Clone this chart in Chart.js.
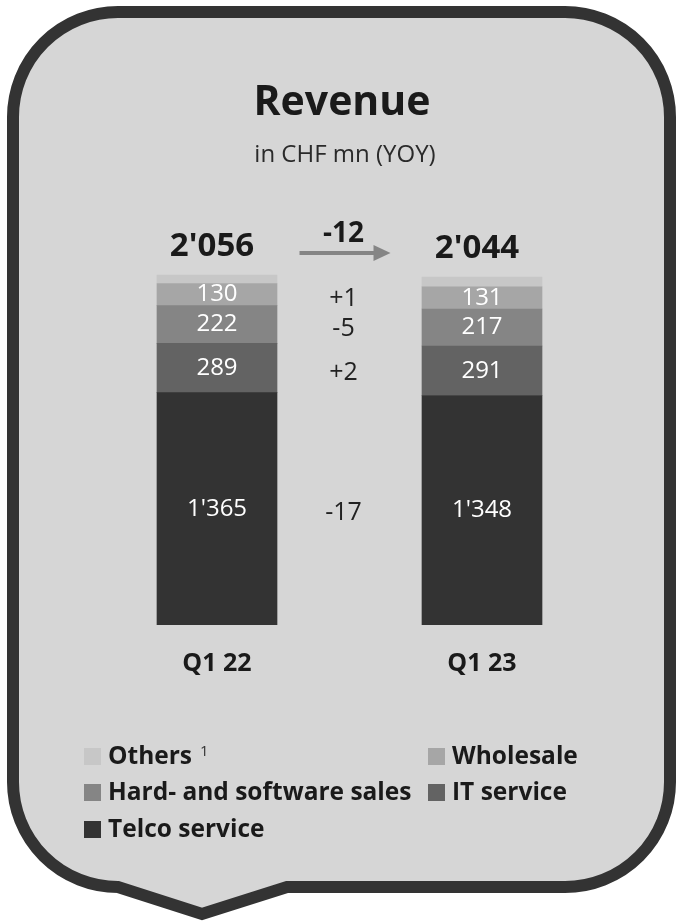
<!DOCTYPE html>
<html>
<head>
<meta charset="utf-8">
<title>Revenue</title>
<script src="https://cdn.jsdelivr.net/npm/chart.js@4.4.1/dist/chart.umd.min.js"></script>
<style>
  html, body { margin: 0; padding: 0; background: #ffffff; }
  #revenueChart { display: block; }
</style>
</head>
<body>
<canvas id="revenueChart" width="676" height="923"></canvas>
<script>
// values in CHF mn
const categories = ['Q1 22', 'Q1 23'];
const telcoService = [1365, 1348];
const itService = [289, 291];
const hardSoftwareSales = [222, 217];
const wholesale = [130, 131];
const others = [50, 57];
const totals = [2056, 2044];

const seriesNames = ['Telco service', 'IT service', 'Hard- and software sales', 'Wholesale', 'Others'];
const seriesColors = ['#333333', '#636363', '#858585', '#a6a6a6', '#c7c7c7'];

const FONT = "'Open Sans', 'Noto Sans', sans-serif";

function fmt(v) {
  return String(Math.abs(v)).replace(/\B(?=(\d{3})+(?!\d))/g, "'");
}
function fmtDelta(v) {
  return (v > 0 ? '+' : '-') + fmt(v);
}

// speech bubble behind everything
const bubblePlugin = {
  id: 'bubble',
  beforeDraw: function(chart) {
    const c = chart.ctx;
    const r = 105;
    const L = 13, T = 12, R = 670, B = 887;
    c.save();
    c.beginPath();
    c.moveTo(L + r, T);
    c.lineTo(R - r, T);
    c.arcTo(R, T, R, T + r, r);
    c.lineTo(R, B - r);
    c.arcTo(R, B, R - r, B, r);
    c.lineTo(287, B);
    c.lineTo(202, 914);
    c.lineTo(118, B);
    c.arcTo(L, B, L, B - r, r);
    c.lineTo(L, T + r);
    c.arcTo(L, T, L + r, T, r);
    c.closePath();
    c.fillStyle = '#d6d6d6';
    c.fill();
    c.lineWidth = 12;
    c.lineJoin = 'miter';
    c.strokeStyle = '#333333';
    c.stroke();
    c.restore();
  }
};

// title, value labels, deltas, totals and legend
const labelsPlugin = {
  id: 'labels',
  afterDatasetsDraw: function(chart) {
    const c = chart.ctx;
    const sets = chart.data.datasets;
    const metas = sets.map(function(d, i) { return chart.getDatasetMeta(i); });
    c.save();
    c.textAlign = 'center';

    // title
    c.fillStyle = '#1a1a1a';
    c.font = 'bold 41px ' + FONT;
    c.textBaseline = 'alphabetic';
    c.fillText('Revenue', 342, 115);
    c.fillStyle = '#2a2a2a';
    c.font = '24px ' + FONT;
    c.fillText('in CHF mn (YOY)', 345, 162);

    const b0 = metas[0].data[0], b1 = metas[0].data[1];
    const midX = (b0.x + b1.x) / 2 - 6;

    // segment values and YOY change
    for (let i = 0; i < sets.length - 1; i++) {
      const p = metas[i].data;
      c.textBaseline = 'middle';
      c.font = '24px ' + FONT;
      c.fillStyle = '#ffffff';
      const centers = [];
      for (let j = 0; j < p.length; j++) {
        const cy = (p[j].y + p[j].base) / 2;
        centers.push(cy);
        c.fillText(fmt(sets[i].data[j]), p[j].x, cy);
      }
      c.fillStyle = '#222222';
      c.font = '25px ' + FONT;
      c.fillText(fmtDelta(sets[i].data[1] - sets[i].data[0]), midX, (centers[0] + centers[1]) / 2 + 3);
    }

    // totals above the stacks
    const topMeta = metas[sets.length - 1].data;
    c.textBaseline = 'alphabetic';
    c.fillStyle = '#1a1a1a';
    c.font = 'bold 33px ' + FONT;
    for (let j = 0; j < topMeta.length; j++) {
      c.fillText(fmt(totals[j]), topMeta[j].x - 5, topMeta[j].y - 19);
    }

    // total change with arrow
    const ay = topMeta[0].y - 22;
    c.font = 'bold 28px ' + FONT;
    c.fillText(fmtDelta(totals[1] - totals[0]), midX, ay - 11);
    c.strokeStyle = '#858585';
    c.fillStyle = '#858585';
    c.lineWidth = 4;
    c.beginPath();
    c.moveTo(midX - 44, ay);
    c.lineTo(midX + 32, ay);
    c.stroke();
    c.beginPath();
    c.moveTo(midX + 47, ay);
    c.lineTo(midX + 30, ay - 8);
    c.lineTo(midX + 30, ay + 8);
    c.closePath();
    c.fill();

    // legend, two columns, top series first
    const colX = [84, 428];
    const rowY = [764, 800, 837];
    c.textAlign = 'left';
    for (let k = 0; k < sets.length; k++) {
      const ds = sets[sets.length - 1 - k];
      const x = colX[k % 2];
      const y = rowY[Math.floor(k / 2)];
      c.fillStyle = ds.backgroundColor;
      c.fillRect(x, y - 16, 17, 17);
      c.fillStyle = '#1a1a1a';
      c.font = 'bold 24.5px ' + FONT;
      c.fillText(ds.label, x + 24, y);
      if (ds.label === 'Others') {
        const w = c.measureText(ds.label).width;
        c.font = '15px ' + FONT;
        c.fillStyle = '#333333';
        c.fillText('1', x + 24 + w + 8, y - 8);
      }
    }
    c.restore();
  }
};

document.addEventListener('DOMContentLoaded', function() {
  const series = [telcoService, itService, hardSoftwareSales, wholesale, others];
  const ctx = document.getElementById('revenueChart');
  new Chart(ctx, {
    type: 'bar',
    data: {
      labels: categories,
      datasets: series.map(function(values, i) {
        return {
          label: seriesNames[i],
          data: values,
          backgroundColor: seriesColors[i],
          borderWidth: 0,
          barThickness: 120
        };
      })
    },
    options: {
      responsive: false,
      animation: false,
      devicePixelRatio: 1,
      layout: {
        padding: { top: 199.4, left: 84.5, right: 61.5, bottom: 238 }
      },
      plugins: {
        legend: { display: false },
        tooltip: { enabled: false },
        title: { display: false }
      },
      scales: {
        x: {
          stacked: true,
          grid: { display: false, drawTicks: false },
          border: { display: false },
          ticks: {
            color: '#1a1a1a',
            padding: 24,
            font: { family: FONT, size: 25, weight: 'bold' }
          },
          afterFit: function(scale) { scale.height = 60; }
        },
        y: {
          stacked: true,
          display: false,
          min: 0,
          max: 2500
        }
      }
    },
    plugins: [bubblePlugin, labelsPlugin]
  });
});
</script>
</body>
</html>
